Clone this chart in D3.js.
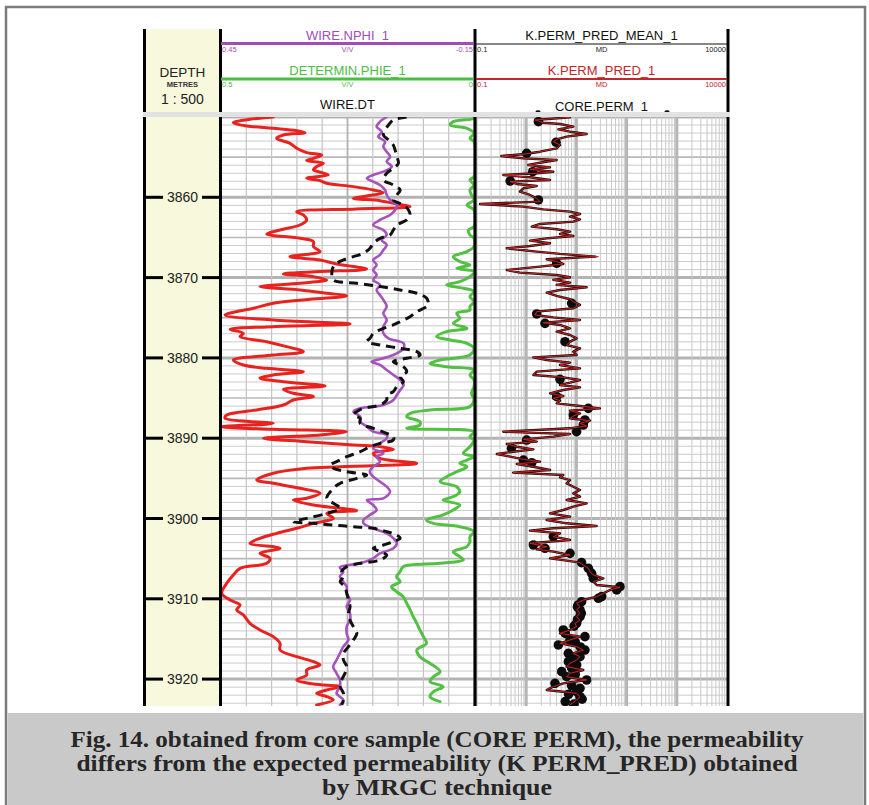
<!DOCTYPE html>
<html>
<head>
<meta charset="utf-8">
<script src="https://cdn.jsdelivr.net/npm/d3@7"></script>
<style>
  body { margin: 0; background: #fff; }
  svg { display: block; }
  text { font-family: "Liberation Sans", Arial, sans-serif; }
  text.caption { font-family: "Liberation Serif", "DejaVu Serif", serif; }
</style>
</head>
<body>
<svg id="chart" width="869" height="805"></svg>
<script>
// ---------------- data ----------------
const depthTicks = [3860, 3870, 3880, 3890, 3900, 3910, 3920];

// red curve (gamma ray, API) : [depth m, value]
const grCurve = [
  [3850.0,31.0],[3850.29,17.2],[3850.71,7.3],[3851.12,15.2],[3851.41,31.0],[3851.70,44.9],[3851.95,49.8],
  [3852.24,37.0],[3852.66,33.0],[3853.28,40.9],[3853.90,44.9],[3854.44,50.8],[3854.73,59.7],[3855.15,54.8],
  [3855.44,50.8],[3855.77,60.7],[3856.18,56.7],[3856.60,54.8],[3856.93,59.7],[3857.22,63.6],[3857.64,50.8],
  [3857.93,58.7],[3858.26,62.7],[3858.67,78.5],[3859.09,90.3],[3859.42,96.2],[3859.84,86.4],[3860.13,78.5],
  [3860.42,94.3],[3860.75,102.2],[3861.16,112.1],[3861.45,80.4],[3861.79,44.9],[3862.20,48.8],[3862.82,50.8],
  [3863.45,46.8],[3864.07,35.0],[3864.57,27.1],[3865.11,46.8],[3865.52,54.8],[3866.14,54.8],[3866.76,58.7],
  [3867.39,40.9],[3867.80,58.7],[3868.30,68.6],[3868.63,78.5],[3868.96,86.4],[3869.25,58.7],[3869.54,37.0],
  [3869.88,54.8],[3870.29,62.7],[3870.71,46.8],[3871.12,23.1],[3871.54,46.8],[3871.95,62.7],[3872.28,74.5],
  [3872.70,52.8],[3873.20,31.0],[3873.82,19.2],[3874.66,2.4],[3875.28,31.0],[3875.78,76.5],[3876.11,31.0],
  [3876.44,5.4],[3876.94,13.3],[3877.35,11.3],[3877.98,27.1],[3878.60,38.9],[3879.22,48.8],[3879.64,31.0],
  [3880.26,7.3],[3880.88,13.3],[3881.30,27.1],[3881.71,48.8],[3882.13,31.0],[3882.54,23.1],[3882.96,37.0],
  [3883.50,61.7],[3883.91,37.0],[3884.41,42.9],[3884.82,54.8],[3885.24,42.9],[3885.86,37.0],[3886.48,21.2],
  [3887.11,3.4],[3887.52,2.4],[3888.15,31.0],[3888.56,0.4],[3888.89,31.0],[3889.18,74.5],[3889.60,58.7],
  [3890.01,25.1],[3890.43,50.8],[3890.85,78.5],[3891.05,94.3],[3891.39,102.2],[3891.88,90.3],[3892.51,94.3],
  [3893.13,116.0],[3893.75,50.8],[3894.37,31.0],[3895.20,21.2],[3895.62,31.0],[3896.24,46.8],[3896.86,58.7],
  [3897.48,50.8],[3897.70,42.9],[3898.32,54.8],[3898.73,70.6],[3899.02,80.4],[3899.36,62.7],[3899.98,66.6],
  [3900.60,54.8],[3901.22,44.9],[3901.85,33.0],[3902.47,23.1],[3903.09,17.2],[3903.71,35.0],[3904.34,23.1],
  [3904.96,29.1],[3905.58,27.1],[3906.21,11.3],[3907.04,7.3],[3908.07,3.4],[3909.32,0.4],[3910.15,5.4],
  [3910.77,11.3],[3911.39,9.3],[3912.02,13.3],[3913.05,17.2],[3913.88,23.1],[3914.71,31.0],[3915.54,35.0],
  [3916.38,35.0],[3917.21,44.9],[3917.83,54.8],[3918.24,58.7],[3918.87,50.8],[3919.49,50.8],[3920.11,44.9],
  [3920.61,54.8],[3920.94,70.6],[3921.36,62.7],[3921.77,56.7],[3922.19,62.7],[3922.60,66.6],[3923.22,56.7]
];

// WIRE.NPHI_1 (v/v)
const nphi = [
  [3850.0,0.057],[3850.58,0.073],[3851.20,0.081],[3851.83,0.069],[3852.45,0.077],[3853.07,0.061],[3853.69,0.065],
  [3854.32,0.057],[3854.94,0.049],[3855.56,0.057],[3856.18,0.045],[3856.81,0.065],[3857.22,0.089],[3857.64,0.104],
  [3858.05,0.089],[3858.47,0.073],[3859.09,0.061],[3859.71,0.057],[3860.33,0.049],[3860.96,0.033],[3861.58,0.037],
  [3862.20,0.049],[3862.82,0.073],[3863.45,0.089],[3864.07,0.065],[3864.69,0.057],[3865.31,0.069],[3865.93,0.057],
  [3866.56,0.065],[3867.18,0.073],[3867.80,0.089],[3868.42,0.081],[3869.05,0.089],[3869.67,0.081],[3870.29,0.089],
  [3870.91,0.073],[3871.54,0.081],[3872.16,0.073],[3872.78,0.065],[3873.61,0.057],[3874.45,0.065],[3875.28,0.057],
  [3876.11,0.065],[3876.94,0.065],[3877.56,0.053],[3878.19,0.017],[3878.81,0.017],[3879.43,0.033],[3880.05,0.065],
  [3880.47,0.093],[3880.88,0.073],[3881.50,0.057],[3882.13,0.041],[3882.75,0.025],[3883.37,0.017],[3883.99,0.025],
  [3884.62,0.033],[3885.24,0.041],[3885.86,0.065],[3886.28,0.120],[3886.69,0.136],[3887.32,0.120],[3887.94,0.120],
  [3888.56,0.104],[3889.18,0.089],[3889.60,0.057],[3890.01,0.057],[3890.64,0.073],[3891.26,0.089],[3891.88,0.065],
  [3892.30,0.081],[3892.92,0.073],[3893.55,0.089],[3894.17,0.097],[3894.79,0.089],[3895.41,0.073],[3896.04,0.057],
  [3896.66,0.049],[3897.49,0.065],[3897.70,0.104],[3898.32,0.089],[3898.94,0.081],[3899.56,0.097],[3900.19,0.112],
  [3900.60,0.112],[3901.22,0.089],[3901.85,0.057],[3902.47,0.041],[3903.09,0.033],[3903.71,0.041],[3904.34,0.073],
  [3904.96,0.089],[3905.58,0.120],[3906.08,0.168],[3906.62,0.160],[3907.24,0.168],[3907.87,0.160],[3908.49,0.152],
  [3909.32,0.152],[3910.15,0.144],[3910.98,0.152],[3911.81,0.144],[3912.64,0.144],[3913.47,0.152],[3914.30,0.152],
  [3915.13,0.148],[3915.96,0.160],[3916.79,0.168],[3917.62,0.176],[3918.45,0.184],[3919.28,0.176],[3920.11,0.168],
  [3920.94,0.168],[3921.77,0.176],[3922.60,0.160],[3923.22,0.168]
];

// DETERMIN.PHIE_1 (v/v)
const phie = [
  [3850.0,0.0],[3850.17,0.0],[3850.58,0.041],[3851.00,0.047],[3851.41,0.014],[3852.03,0.0],[3852.66,0.008],
  [3853.07,0.0],[3857.43,0.0],[3857.84,0.008],[3858.47,0.0],[3859.09,0.008],[3859.71,0.005],[3860.33,0.0],
  [3860.96,0.014],[3861.58,0.0],[3863.65,0.0],[3864.07,0.011],[3864.69,0.008],[3865.11,0.0],[3866.14,0.0],
  [3866.76,0.014],[3867.39,0.041],[3868.01,0.028],[3868.42,0.008],[3868.84,0.034],[3869.25,0.0],[3869.88,0.008],
  [3870.50,0.028],[3870.91,0.054],[3871.33,0.021],[3871.74,0.0],[3872.37,0.008],[3872.99,0.0],[3873.61,0.008],
  [3874.03,0.008],[3874.45,0.034],[3875.07,0.028],[3875.70,0.041],[3876.32,0.014],[3876.73,0.054],[3877.36,0.074],
  [3877.77,0.047],[3878.19,0.014],[3878.81,0.0],[3879.64,0.008],[3880.26,0.067],[3880.68,0.087],[3881.09,0.054],
  [3881.51,0.0],[3882.13,0.008],[3882.75,0.0],[3883.58,0.0],[3884.41,0.005],[3885.24,0.0],[3886.07,0.008],
  [3886.49,0.087],[3886.90,0.126],[3887.32,0.133],[3887.94,0.107],[3888.36,0.107],[3888.77,0.133],[3889.19,0.0],
  [3889.81,0.008],[3890.23,0.0],[3891.06,0.008],[3891.88,0.021],[3892.30,0.0],[3892.72,0.014],[3893.13,0.028],
  [3893.55,0.014],[3894.17,0.034],[3894.79,0.054],[3895.41,0.067],[3896.04,0.034],[3896.66,0.028],[3897.28,0.041],
  [3897.70,0.061],[3898.32,0.028],[3898.94,0.041],[3899.56,0.061],[3900.19,0.094],[3900.60,0.080],[3901.02,0.028],
  [3901.64,0.0],[3902.26,0.008],[3902.88,0.008],[3903.51,0.014],[3904.13,0.041],[3904.75,0.028],[3905.17,0.021],
  [3905.58,0.067],[3906.00,0.140],[3906.62,0.146],[3907.24,0.153],[3907.87,0.146],[3908.49,0.163],[3909.11,0.153],
  [3909.73,0.140],[3910.56,0.133],[3911.39,0.126],[3912.22,0.120],[3913.05,0.113],[3913.88,0.107],[3914.71,0.100],
  [3915.54,0.094],[3916.38,0.113],[3917.21,0.107],[3918.04,0.087],[3919.07,0.067],[3919.70,0.080],[3920.32,0.087],
  [3920.94,0.061],[3921.56,0.080],[3922.19,0.087],[3922.81,0.067]
];

// WIRE.DT (us/ft)
const dt = [
  [3850.0,66.6],[3850.37,71.9],[3851.00,73.8],[3851.62,75.1],[3852.24,75.8],[3852.86,73.8],[3853.49,71.9],
  [3854.11,71.2],[3854.94,70.5],[3855.77,69.9],[3856.39,71.9],[3857.01,74.5],[3857.84,75.8],[3858.47,71.9],
  [3859.09,69.2],[3859.71,70.5],[3860.33,71.9],[3860.96,67.9],[3861.58,65.9],[3862.20,65.3],[3862.82,66.6],
  [3863.45,70.5],[3864.07,71.9],[3864.69,73.2],[3865.11,77.1],[3865.73,79.8],[3866.35,81.1],[3866.97,83.7],
  [3867.39,87.7],[3867.80,91.6],[3868.22,94.3],[3868.63,95.6],[3869.46,96.2],[3870.29,95.6],[3870.71,86.3],
  [3871.12,77.1],[3871.54,69.2],[3871.95,62.6],[3872.57,58.7],[3873.40,58.0],[3873.62,58.7],[3874.24,62.6],
  [3874.87,65.3],[3875.49,69.2],[3875.90,71.9],[3876.32,75.8],[3876.94,79.8],[3877.56,81.1],[3877.98,82.4],
  [3878.39,77.1],[3878.81,69.2],[3879.22,62.6],[3879.64,61.3],[3880.05,66.6],[3880.47,71.9],[3881.09,67.9],
  [3881.71,66.6],[3882.34,69.2],[3882.96,67.9],[3883.58,70.5],[3884.21,71.9],[3884.62,74.5],[3885.24,74.5],
  [3885.86,77.1],[3886.28,83.7],[3886.69,86.3],[3887.11,87.7],[3887.53,85.0],[3888.15,85.0],[3888.77,79.8],
  [3889.40,74.5],[3889.81,71.9],[3890.23,71.9],[3890.64,77.1],[3891.06,81.1],[3891.68,85.0],[3892.30,90.3],
  [3892.92,94.3],[3893.34,96.9],[3893.75,95.6],[3894.17,90.3],[3894.58,82.4],[3895.00,86.3],[3895.62,92.9],
  [3896.24,95.6],[3897.49,98.2],[3898.11,95.6],[3898.73,92.9],[3899.36,98.2],[3899.98,106.1],[3900.39,111.4],
  [3900.60,103.5],[3900.81,95.6],[3901.02,87.7],[3901.22,79.8],[3901.64,74.5],[3902.05,70.5],[3902.47,69.2],
  [3902.88,71.9],[3903.30,75.8],[3903.71,79.8],[3904.13,77.1],[3904.54,74.5],[3905.17,77.1],[3905.58,85.0],
  [3905.99,90.3],[3906.62,92.3],[3907.24,91.6],[3907.87,92.9],[3908.49,91.0],[3909.32,90.3],[3910.15,89.6],
  [3910.98,89.0],[3911.81,89.6],[3912.64,89.0],[3913.47,87.7],[3914.30,86.3],[3915.13,87.7],[3915.96,89.6],
  [3916.79,91.6],[3917.62,91.6],[3918.45,90.3],[3919.28,91.0],[3920.11,92.3],[3920.94,92.9],[3921.77,91.6],
  [3922.60,91.6],[3923.22,92.3]
];

// K.PERM_PRED_1 and K.PERM_PRED_MEAN_1 (mD) : [depth, pred, mean]
const kPerm = [
  [3850.04,7.46,7.46],[3850.37,1.50,1.50],[3850.71,2.19,2.19],[3850.87,4.71,4.71],[3851.20,8.69,8.69],
  [3851.54,4.37,4.37],[3851.83,7.46,7.46],[3852.12,16.0,16.0],[3852.45,6.40,6.40],[3852.78,4.05,4.05],
  [3853.07,3.47,3.47],[3853.49,4.71,4.71],[3853.90,4.05,4.05],[3854.32,1.88,1.88],[3854.61,0.95,0.95],
  [3854.86,0.32,0.32],[3855.15,0.88,0.88],[3855.35,4.05,4.05],[3855.69,1.88,1.88],[3855.98,1.10,1.10],
  [3856.27,2.98,2.98],[3856.52,1.19,1.19],[3856.81,3.47,3.47],[3857.01,1.62,1.62],[3857.22,0.35,0.35],
  [3857.51,1.19,1.19],[3857.84,2.98,2.98],[3858.05,0.48,0.48],[3858.34,0.65,0.65],[3858.59,1.62,1.62],
  [3858.88,0.88,0.88],[3859.30,0.75,0.75],[3859.71,1.19,1.19],[3860.13,1.62,1.62],[3860.54,1.88,1.88],
  [3860.83,0.12,0.12],[3861.16,0.88,0.88],[3861.50,2.19,2.19],[3861.79,7.46,7.46],[3862.08,11.8,11.8],
  [3862.41,7.46,7.46],[3862.74,11.8,11.8],[3863.03,8.69,8.69],[3863.32,1.88,1.88],[3863.65,1.29,1.29],
  [3863.98,4.05,4.05],[3864.27,7.46,7.46],[3864.57,4.71,4.71],[3864.82,8.69,8.69],[3865.11,2.56,2.56],
  [3865.40,1.19,1.19],[3865.73,2.98,2.98],[3866.06,1.19,1.19],[3866.35,0.41,0.41],[3866.76,1.62,1.62],
  [3867.05,4.71,4.71],[3867.39,27.4,24.0],[3867.72,2.56,2.56],[3868.01,4.05,4.05],[3868.30,5.49,5.49],
  [3868.63,1.88,1.88],[3869.05,0.41,0.41],[3869.38,0.75,0.75],[3869.67,4.05,4.05],[3869.96,7.46,7.46],
  [3870.29,3.47,3.47],[3870.62,7.46,7.46],[3870.91,4.05,4.05],[3871.21,16.0,16.0],[3871.54,4.71,4.71],
  [3871.87,2.56,2.56],[3872.28,4.05,4.05],[3872.70,7.46,7.46],[3872.99,8.69,8.69],[3873.40,11.8,11.8],
  [3873.82,8.69,8.69],[3874.24,1.62,1.62],[3874.66,1.50,1.50],[3874.95,3.47,3.47],[3875.28,11.8,11.8],
  [3875.61,2.19,2.19],[3875.90,4.71,4.71],[3876.32,7.46,7.46],[3876.73,4.05,4.05],[3877.15,7.46,7.46],
  [3877.56,10.1,10.1],[3877.98,7.46,7.46],[3878.39,6.40,6.40],[3878.81,11.8,11.8],[3879.22,8.69,8.69],
  [3879.64,10.1,10.1],[3879.93,1.39,1.39],[3880.26,2.56,2.56],[3880.59,7.46,7.46],[3880.88,4.71,4.71],
  [3881.30,11.8,11.8],[3881.71,1.62,1.62],[3882.13,1.39,1.39],[3882.42,5.49,5.49],[3882.75,11.8,11.8],
  [3883.08,7.46,7.46],[3883.38,4.71,4.71],[3883.67,11.8,11.8],[3884.00,5.49,5.49],[3884.41,2.98,2.98],
  [3884.75,5.49,5.49],[3885.04,3.47,3.47],[3885.33,4.71,4.71],[3885.66,4.05,4.05],[3885.99,11.8,11.8],
  [3886.28,29.5,29.5],[3886.57,7.46,7.46],[3886.90,11.8,11.8],[3887.24,8.69,8.69],[3887.53,7.46,7.46],
  [3887.82,18.7,18.7],[3888.15,11.8,11.8],[3888.48,16.0,16.0],[3888.77,7.46,7.46],[3888.98,1.62,1.62],
  [3889.19,0.35,0.35],[3889.48,7.46,7.46],[3889.81,3.47,3.47],[3890.14,0.88,0.88],[3890.43,1.62,1.62],
  [3890.72,0.41,0.41],[3891.06,0.65,0.65],[3891.39,1.39,1.39],[3891.68,0.55,0.55],[3891.97,0.26,0.26],
  [3892.30,0.48,0.48],[3892.63,0.88,0.88],[3892.92,1.88,1.88],[3893.21,0.65,0.65],[3893.55,1.39,1.39],
  [3893.96,2.98,2.98],[3894.29,0.55,0.55],[3894.58,5.49,5.49],[3894.87,4.71,4.71],[3895.21,7.46,7.46],
  [3895.62,6.40,6.40],[3896.04,8.69,8.69],[3896.45,11.8,11.8],[3896.87,8.69,8.69],[3897.28,11.8,11.8],
  [3897.70,6.40,6.40],[3898.11,16.0,16.0],[3898.53,8.69,8.69],[3898.94,5.49,5.49],[3899.36,2.98,2.98],
  [3899.77,7.46,7.46],[3900.19,2.56,2.56],[3900.60,6.40,6.40],[3900.93,25.3,25.3],[3901.22,3.47,3.47],
  [3901.51,1.19,1.19],[3901.85,4.71,4.71],[3902.26,3.47,3.47],[3902.68,7.46,7.46],[3903.09,1.19,1.19],
  [3903.51,2.56,2.56],[3903.84,1.62,1.62],[3904.13,3.47,3.47],[3904.54,7.46,7.46],[3904.96,2.98,2.98],
  [3905.25,6.40,6.40],[3905.50,11.8,11.8],[3905.79,13.7,13.7],[3906.21,17.3,17.3],[3906.62,18.7,18.7],
  [3907.04,21.7,21.7],[3907.45,34.4,34.4],[3907.87,21.7,21.7],[3908.28,25.3,25.3],[3908.57,73.8,73.8],
  [3908.90,46.7,46.7],[3909.32,34.4,34.4],[3909.73,25.3,25.3],[3910.15,13.7,13.7],[3910.56,10.1,10.1],
  [3910.98,11.8,11.8],[3911.39,10.1,10.1],[3911.81,11.8,11.8],[3912.22,10.1,10.1],[3912.64,11.8,11.8],
  [3913.05,9.38,9.38],[3913.47,10.1,10.1],[3913.88,7.46,7.46],[3914.30,4.71,4.71],[3914.71,11.8,11.8],
  [3915.13,7.46,7.46],[3915.54,4.71,4.71],[3915.96,10.1,10.1],[3916.38,13.7,13.7],[3916.79,8.69,8.69],
  [3917.21,11.8,11.8],[3917.62,10.1,10.1],[3918.04,7.46,7.46],[3918.45,6.40,6.40],[3918.87,13.7,13.7],
  [3919.28,7.46,7.46],[3919.70,6.40,6.40],[3920.11,16.0,16.0],[3920.53,5.49,5.49],[3920.94,3.47,3.47],
  [3921.36,2.56,2.56],[3921.77,10.1,10.1],[3922.19,11.8,11.8],[3922.60,10.1,10.1],[3923.22,7.46,7.46]
];

// CORE.PERM_1 (mD) : [depth, value]
const corePerm = [
  [3850.58,1.75],[3853.15,3.93],[3854.52,1.02],[3856.81,1.35],[3857.97,0.48],[3860.33,1.75],[3868.22,4.05],
  [3873.20,8.05],[3874.53,1.62],[3875.70,2.37],[3877.98,5.93],[3882.67,4.71],[3884.83,4.05],[3886.28,17.3],
  [3887.11,8.69],[3887.73,14.8],[3888.36,13.7],[3889.19,10.1],[3890.23,1.02],[3891.26,0.51],[3892.72,0.88],
  [3893.05,1.29],[3902.26,3.47],[3903.30,1.39],[3903.71,2.37],[3904.34,7.46],[3905.50,12.7],[3906.21,17.3],
  [3906.83,20.1],[3907.45,21.7],[3908.49,73.8],[3908.90,63.4],[3909.73,31.9],[3909.94,27.4],[3910.36,12.7],
  [3910.77,10.9],[3911.00,10.5],[3911.39,11.8],[3911.80,12.5],[3912.22,11.8],[3912.60,10.5],[3913.05,10.1],
  [3913.40,9.0],[3913.88,5.49],[3914.30,6.0],[3914.71,14.8],[3915.13,7.46],[3915.40,9.5],[3915.75,4.37],
  [3916.00,12.0],[3916.38,14.8],[3916.79,6.91],[3917.21,11.8],[3917.50,9.0],[3917.83,6.91],[3918.24,10.1],
  [3918.60,8.0],[3919.07,5.09],[3919.40,9.5],[3919.70,6.40],[3920.11,16.0],[3920.53,3.75],[3920.80,8.0],
  [3921.15,11.8],[3921.56,10.1],[3921.90,7.0],[3922.19,11.8],[3922.50,13.0],[3922.80,6.0],[3923.10,9.0]
];

const captionLines = [
  "Fig. 14. obtained from core sample (CORE PERM), the permeability",
  "differs from the expected permeability (K PERM_PRED) obtained",
  "by MRGC technique"
];

// ---------------- layout ----------------
const svg = d3.select("#chart");
const plotTop = 117, plotBottom = 706;
const headTop = 29, headBottom = 112;
const depthX = [145, 220];
const t1 = [221, 474];
const t2 = [476, 727];

const y = d3.scaleLinear().domain([3850, 3923.35]).range([plotTop, plotBottom]);
const xGR = d3.scaleLinear().domain([0, 150]).range(t1);
const xNPHI = d3.scaleLinear().domain([0.45, -0.15]).range(t1);
const xPHIE = d3.scaleLinear().domain([0.5, 0]).range(t1);
const xDT = d3.scaleLinear().domain([140, 40]).range(t1);
const xK = d3.scaleLog().domain([0.1, 10000]).range(t2);

// outer frame and caption box
svg.append("rect").attr("x", 6).attr("y", 7).attr("width", 859).attr("height", 800)
  .attr("fill", "#fff").attr("stroke", "#7b7b7b").attr("stroke-width", 2.5);
svg.append("rect").attr("x", 7.5).attr("y", 713).attr("width", 856).attr("height", 92)
  .attr("fill", "#c9c9c9");

// depth track background
svg.append("rect").attr("x", depthX[0]).attr("y", headTop).attr("width", depthX[1] - depthX[0])
  .attr("height", plotBottom - headTop).attr("fill", "#f8f8dc");

// ---------------- grids ----------------
const grid = svg.append("g");
const depthLines = d3.range(3850, 3924, 1);
function hLines(x0, x1) {
  depthLines.forEach(d => {
    const major = d % 10 === 0, mid = d % 5 === 0;
    grid.append("line").attr("x1", x0).attr("x2", x1).attr("y1", y(d)).attr("y2", y(d))
      .attr("stroke", major ? "#b3b3b3" : (mid ? "#b8b8b8" : "#cbcbcb"))
      .attr("stroke-width", major ? 3 : (mid ? 1.6 : 1));
  });
}
hLines(t1[0], t1[1]);
hLines(t2[0], t2[1]);

d3.range(0, 151, 15).forEach((v, i) => {
  grid.append("line").attr("x1", xGR(v)).attr("x2", xGR(v)).attr("y1", plotTop).attr("y2", plotBottom)
    .attr("stroke", i === 5 ? "#b0b0b0" : "#c4c4c4").attr("stroke-width", i === 5 ? 1.8 : 1.2);
});
[-1, 0, 1, 2, 3].forEach(e => {
  d3.range(1, 10).forEach(m => {
    const v = m * Math.pow(10, e);
    grid.append("line").attr("x1", xK(v)).attr("x2", xK(v)).attr("y1", plotTop).attr("y2", plotBottom)
      .attr("stroke", m === 1 ? "#b5b5b5" : "#c8c8c8").attr("stroke-width", m === 1 ? 3 : 1);
  });
});

// ---------------- curves ----------------
const defs = svg.append("defs");
defs.append("clipPath").attr("id", "clip1").append("rect")
  .attr("x", t1[0]).attr("y", plotTop).attr("width", t1[1] - t1[0] + 1).attr("height", plotBottom - plotTop);
defs.append("clipPath").attr("id", "clip2").append("rect")
  .attr("x", t2[0]).attr("y", plotTop).attr("width", t2[1] - t2[0]).attr("height", plotBottom - plotTop);

const g1 = svg.append("g").attr("clip-path", "url(#clip1)");
const g2 = svg.append("g").attr("clip-path", "url(#clip2)");

function curve(g, data, xs, col, color, width, dash, smooth) {
  const line = d3.line().x(d => xs(d[col])).y(d => y(d[0]));
  if (smooth) line.curve(d3.curveCatmullRom.alpha(0.5));
  const p = g.append("path").attr("d", line(data)).attr("fill", "none")
    .attr("stroke", color).attr("stroke-width", width)
    .attr("stroke-linejoin", "round").attr("stroke-linecap", "round");
  if (dash) p.attr("stroke-dasharray", dash).attr("stroke-linecap", "butt");
  return p;
}
curve(g1, phie, xPHIE, 1, "#52c043", 3, null, true);
curve(g1, grCurve, xGR, 1, "#e8221f", 3, null, true);
curve(g1, nphi, xNPHI, 1, "#a552bd", 2.6, null, true);
curve(g1, dt, xDT, 1, "#111", 3, "9,6", true);

g2.selectAll("circle").data(corePerm).join("circle")
  .attr("cx", d => xK(d[1])).attr("cy", d => y(d[0])).attr("r", 4.8).attr("fill", "#0c0c0c");
curve(g2, kPerm, xK, 2, "#111", 2.4);
curve(g2, kPerm, xK, 1, "#d61d1d", 1);

// ---------------- borders ----------------
[144.5, 220.5, 475, 728].forEach(x => {
  svg.append("line").attr("x1", x).attr("x2", x).attr("y1", headTop).attr("y2", plotBottom)
    .attr("stroke", "#000").attr("stroke-width", 3);
});

// ---------------- headers ----------------
const head = svg.append("g");
const c1 = (t1[0] + t1[1]) / 2, c2 = (t2[0] + t2[1]) / 2, cD = (depthX[0] + depthX[1]) / 2;

head.append("text").attr("x", cD).attr("y", 77).attr("text-anchor", "middle")
  .attr("font-size", 13.5).attr("fill", "#222").text("DEPTH");
head.append("text").attr("x", cD).attr("y", 87).attr("text-anchor", "middle")
  .attr("font-size", 7.5).attr("font-weight", "bold").attr("fill", "#333").text("METRES");
head.append("text").attr("x", cD).attr("y", 104).attr("text-anchor", "middle")
  .attr("font-size", 14).attr("fill", "#222").text("1 : 500");

function curveHeader(cx, x0, x1, yTitle, yLine, title, color, lineW, lo, unit, hi, tickColor) {
  head.append("text").attr("x", cx).attr("y", yTitle).attr("text-anchor", "middle")
    .attr("font-size", 13).attr("fill", color).text(title);
  if (yLine != null) {
    head.append("line").attr("x1", x0).attr("x2", x1).attr("y1", yLine).attr("y2", yLine)
      .attr("stroke", color).attr("stroke-width", lineW);
    const ty = yLine + 8;
    head.append("text").attr("x", x0 + 1).attr("y", ty).attr("font-size", 7.5).attr("fill", tickColor).text(lo);
    head.append("text").attr("x", cx).attr("y", ty).attr("text-anchor", "middle").attr("font-size", 7.5).attr("fill", tickColor).text(unit);
    head.append("text").attr("x", x1 - 1).attr("y", ty).attr("text-anchor", "end").attr("font-size", 7.5).attr("fill", tickColor).text(hi);
  }
}
curveHeader(c1, t1[0], t1[1], 40, 43.5, "WIRE.NPHI_1", "#a04db8", 3, "0.45", "V/V", "-0.15", "#a04db8");
curveHeader(c1, t1[0], t1[1], 75, 79, "DETERMIN.PHIE_1", "#4cbd45", 3, "0.5", "V/V", "0", "#4cbd45");
curveHeader(c1, t1[0], t1[1], 109, null, "WIRE.DT", "#111");
curveHeader(c2, t2[0], t2[1], 40, 44, "K.PERM_PRED_MEAN_1", "#111", 1, "0.1", "MD", "10000", "#222");
curveHeader(c2, t2[0], t2[1], 75, 79, "K.PERM_PRED_1", "#c0262b", 2, "0.1", "MD", "10000", "#c0262b");
curveHeader(c2, t2[0], t2[1], 111, null, "CORE.PERM_1", "#111");
[538, 667].forEach(x => {
  head.append("ellipse").attr("cx", x).attr("cy", 111.5).attr("rx", 2.5).attr("ry", 1.2).attr("fill", "#111");
});

// band between header and log body
svg.append("rect").attr("x", 143).attr("y", headBottom).attr("width", 587).attr("height", plotTop - headBottom)
  .attr("fill", "#e2e2e2");

// ---------------- depth labels ----------------
const dl = svg.append("g");
depthTicks.forEach(d => {
  const yy = y(d);
  dl.append("line").attr("x1", 146).attr("x2", 163).attr("y1", yy).attr("y2", yy)
    .attr("stroke", "#000").attr("stroke-width", 3);
  dl.append("line").attr("x1", 202).attr("x2", 220).attr("y1", yy).attr("y2", yy)
    .attr("stroke", "#000").attr("stroke-width", 3);
  dl.append("text").attr("x", cD).attr("y", yy).attr("dy", "0.36em").attr("text-anchor", "middle")
    .attr("font-size", 14).attr("fill", "#222").text(d);
});

// ---------------- caption ----------------
const capWidths = [733, 721, 230];
captionLines.forEach((t, i) => {
  svg.append("text").attr("class", "caption")
    .attr("x", 437).attr("y", 747 + i * 24).attr("text-anchor", "middle")
    .attr("font-weight", "bold").attr("font-size", 23).attr("fill", "#262626")
    .attr("textLength", capWidths[i]).attr("lengthAdjust", "spacingAndGlyphs")
    .text(t);
});
</script>
</body>
</html>
